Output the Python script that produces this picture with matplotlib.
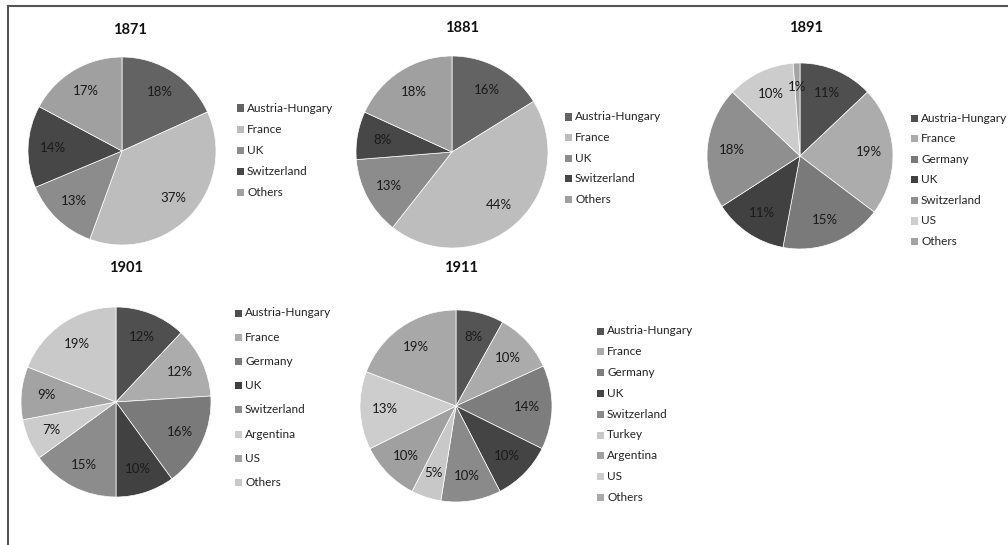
import matplotlib
matplotlib.use("Agg")
import numpy as np
import matplotlib.pyplot as plt
from matplotlib.lines import Line2D

plt.rcParams['font.family'] = ['Lato', 'DejaVu Sans']

W, H = 1008, 545

# data
years = ['1871', '1881', '1891', '1901', '1911']

names_1871 = ['Austria-Hungary', 'France', 'UK', 'Switzerland', 'Others']
vals_1871 = [18, 37, 13, 14, 17]
cols_1871 = ['#636363', '#bdbdbd', '#8c8c8c', '#474747', '#a0a0a0']

names_1881 = ['Austria-Hungary', 'France', 'UK', 'Switzerland', 'Others']
vals_1881 = [16, 44, 13, 8, 18]
cols_1881 = ['#636363', '#bdbdbd', '#8c8c8c', '#474747', '#a0a0a0']

names_1891 = ['Austria-Hungary', 'France', 'Germany', 'UK', 'Switzerland', 'US', 'Others']
vals_1891 = [11, 19, 15, 11, 18, 10, 1]
cols_1891 = ['#4f4f4f', '#acacac', '#7a7a7a', '#414141', '#8f8f8f', '#cccccc', '#a3a3a3']

names_1901 = ['Austria-Hungary', 'France', 'Germany', 'UK', 'Switzerland', 'Argentina', 'US', 'Others']
vals_1901 = [12, 12, 16, 10, 15, 7, 9, 19]
cols_1901 = ['#4f4f4f', '#acacac', '#7a7a7a', '#414141', '#8c8c8c', '#cccccc', '#a3a3a3', '#c9c9c9']

names_1911 = ['Austria-Hungary', 'France', 'Germany', 'UK', 'Switzerland', 'Turkey', 'Argentina', 'US', 'Others']
vals_1911 = [8, 10, 14, 10, 10, 5, 10, 13, 19]
cols_1911 = ['#545454', '#ababab', '#7d7d7d', '#444444', '#8a8a8a', '#c8c8c8', '#a0a0a0', '#cdcdcd', '#a8a8a8']

# layout in pixels: pie centre, radius, title pos, legend top-left, row spacing
layout = {
    '1871': dict(c=(122, 151), r=94, t=(130, 30), leg=(236, 108), gap=21.2),
    '1881': dict(c=(452, 152), r=96, t=(462, 28), leg=(564, 117), gap=20.6),
    '1891': dict(c=(800, 156), r=93, t=(806, 28), leg=(910, 118), gap=20.6),
    '1901': dict(c=(116, 402), r=95, t=(126, 268), leg=(234, 313), gap=24.2),
    '1911': dict(c=(456, 406), r=96, t=(461, 268), leg=(596, 331), gap=20.8),
}

data = {
    '1871': (names_1871, vals_1871, cols_1871),
    '1881': (names_1881, vals_1881, cols_1881),
    '1891': (names_1891, vals_1891, cols_1891),
    '1901': (names_1901, vals_1901, cols_1901),
    '1911': (names_1911, vals_1911, cols_1911),
}

fig = plt.figure(figsize=(W / 100, H / 100), dpi=100)
fig.patch.set_facecolor('white')

# frame lines (top and left only)
fig.add_artist(Line2D([8 / W, 1], [1 - 6 / H, 1 - 6 / H], color='#555555', lw=1.5))
fig.add_artist(Line2D([8 / W, 8 / W], [0, 1 - 6 / H], color='#555555', lw=1.5))

for yr in years:
    names, vals, cols = data[yr]
    L = layout[yr]
    cx, cy = L['c']
    r = L['r']
    ax = fig.add_axes([(cx - r) / W, 1 - (cy + r) / H, 2 * r / W, 2 * r / H])
    wedges, _ = ax.pie(vals, colors=cols, startangle=90, counterclock=False,
                       wedgeprops=dict(edgecolor='white', linewidth=0.5))
    # percentage labels, printed as in the source (not recomputed)
    tot = float(sum(vals))
    ang = 90.0
    for v in vals:
        mid = ang - 360.0 * v / tot / 2
        ang -= 360.0 * v / tot
        d = 0.74
        ax.text(d * np.cos(np.radians(mid)), d * np.sin(np.radians(mid)), '%d%%' % v,
                ha='center', va='center', fontsize=9.5, color='#1a1a1a')
    ax.set_xlim(-1, 1)
    ax.set_ylim(-1, 1)
    ax.axis('off')

    fig.text(L['t'][0] / W, 1 - L['t'][1] / H, yr, ha='center', va='center',
             fontsize=10.5, fontweight='bold', color='#111111')

    # legend: small squares + labels
    lx, ly = L['leg']
    for i, (n, c) in enumerate(zip(names, cols)):
        yy = ly + i * L['gap']
        fig.patches.append(plt.Rectangle(((lx + 1) / W, 1 - (yy + 3.5) / H), 7 / W, 7 / H,
                                         transform=fig.transFigure, facecolor=c,
                                         edgecolor='none', figure=fig))
        fig.text((lx + 11) / W, 1 - yy / H, n, ha='left', va='center',
                 fontsize=8.5, color='#222222')

fig.savefig('out.png', dpi=100, facecolor='white')
